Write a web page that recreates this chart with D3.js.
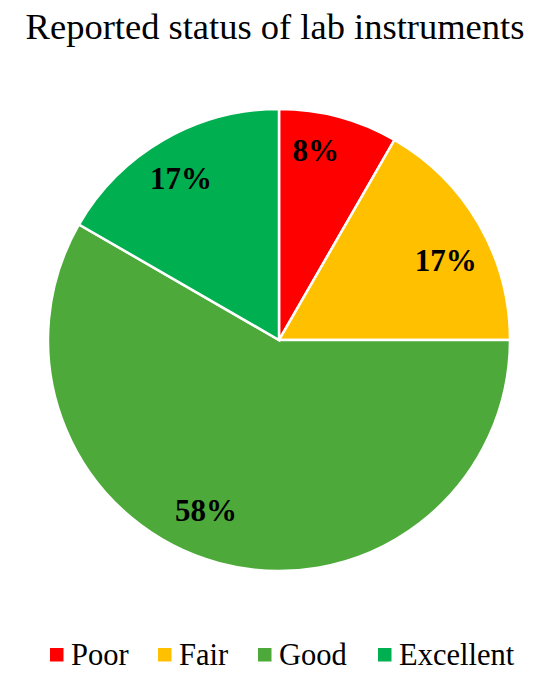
<!DOCTYPE html>
<html>
<head>
<meta charset="utf-8">
<script src="https://cdn.jsdelivr.net/npm/d3@7"></script>
<style>
  body { margin: 0; background: #fff; }
  text { font-family: "Liberation Serif", "Times New Roman", serif; }
</style>
</head>
<body>
<div id="chart"></div>
<script>
// chart data
let categories = ['Poor', 'Fair', 'Good', 'Excellent'];
let counts = [1, 2, 7, 2];
let percentLabels = ['8%', '17%', '58%', '17%'];
let colors = ['#FF0000', '#FFC000', '#4DAA3A', '#00B050'];

let width = 550, height = 686;
let cx = 279, cy = 340, radius = 231;

// label placement tweaks (degrees off the slice middle, radius used)
let labelShift = [-4, 4.4, 8.2, -1.2];
let labelR = [193, 185, 185, 189];

let svg = d3.select('#chart').append('svg')
    .attr('width', width)
    .attr('height', height);

// title
svg.append('text')
    .attr('x', width / 2)
    .attr('y', 39)
    .attr('text-anchor', 'middle')
    .attr('font-size', 36.5)
    .attr('fill', '#000')
    .text('Reported status of lab instruments');

let pie = d3.pie().sort(null).value(d => d);
let arcs = pie(counts);

let arc = d3.arc().innerRadius(0).outerRadius(radius);

let g = svg.append('g')
    .attr('transform', 'translate(' + cx + ',' + cy + ')');

g.selectAll('path')
    .data(arcs)
    .enter().append('path')
    .attr('d', arc)
    .attr('fill', (d, i) => colors[i])
    .attr('stroke', '#fff')
    .attr('stroke-width', 2.5);

g.selectAll('.lbl')
    .data(arcs)
    .enter().append('text')
    .attr('class', 'lbl')
    .attr('transform', (d, i) => {
        let a = (d.startAngle + d.endAngle) / 2 + labelShift[i] * Math.PI / 180;
        let x = labelR[i] * Math.sin(a);
        let y = -labelR[i] * Math.cos(a);
        return 'translate(' + x + ',' + y + ')';
    })
    .attr('text-anchor', 'middle')
    .attr('dy', '0.35em')
    .attr('font-size', 31)
    .attr('font-weight', 'bold')
    .attr('fill', '#000')
    .text((d, i) => percentLabels[i]);

// legend
let legendX = [50, 158, 258, 378];
let legend = svg.append('g');
let items = legend.selectAll('g')
    .data(categories)
    .enter().append('g')
    .attr('transform', (d, i) => 'translate(' + legendX[i] + ',648)');

items.append('rect')
    .attr('width', 13.5)
    .attr('height', 13.5)
    .attr('fill', (d, i) => colors[i]);

items.append('text')
    .attr('x', 21)
    .attr('y', 17)
    .attr('font-size', 30.5)
    .attr('fill', '#000')
    .text(d => d);
</script>
</body>
</html>
